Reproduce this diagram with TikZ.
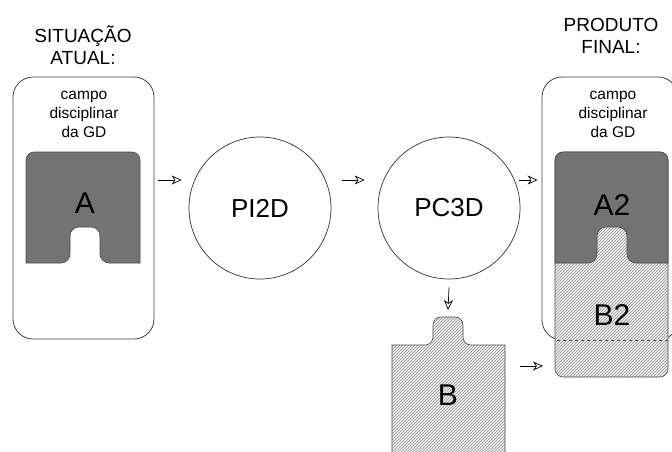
\documentclass[tikz,border=0pt]{standalone}
\usepackage{fontspec}
\setmainfont{Liberation Sans}
\usetikzlibrary{arrows.meta, patterns}

\begin{document}
\begin{tikzpicture}[
        x=1pt, y=-1pt,
        frame/.style={draw=black!75, rounded corners=20pt, line width=0.8pt},
        proc/.style={draw=black!80, circle, minimum size=142pt, inner sep=0pt, line width=0.7pt,
                     font=\fontsize{26}{30}\selectfont},
        heading/.style={align=center, font=\fontsize{19}{22.5}\selectfont},
        field/.style={align=center, font=\fontsize{15.5}{19}\selectfont},
        piece/.style={font=\fontsize{30}{34}\selectfont},
        darkpart/.style={fill=black!55, draw=black!70, line width=0.6pt},
        lightpart/.style={draw=black!70, line width=0.6pt, preaction={fill=black!8},
                          pattern=north east lines, pattern color=black!40},
        arr/.style={-{Stealth[open, length=10pt, width=9pt, inset=3pt]}, line width=0.7pt}]

        \useasboundingbox (0,0) rectangle (672,451);

        % --- LEFT: current situation ---
        \node[heading] (curtitle) at (83,45) {SITUAÇÃO\\ATUAL:};
        \node[frame, minimum width=141pt, minimum height=262pt] (cur) at (83.5,208) {};
        \node[field] (curfield) at (84,114) {campo\\disciplinar\\da GD};
        % A (notch at the bottom)
        \draw[darkpart] (26,263) [rounded corners=8pt] -- (26,152) -- (140,152)
            [sharp corners] -- (140,263) [rounded corners=9pt] -- (100,263) -- (100,227)
            -- (70,227) -- (70,263) [sharp corners] -- cycle;
        \node[piece] (a) at (85,203) {A};

        % --- MIDDLE: processes ---
        \node[proc] (pi) at (260,208) {PI2D};
        \node[proc] (pc) at (449,208) {PC3D};

        % B (tab on top)
        \draw[lightpart] (392,460) -- (392,345) [rounded corners=8pt] -- (433,345) -- (433,317)
            -- (463,317) -- (463,345) [sharp corners] -- (505,345) -- (505,460) -- cycle;
        \node[piece] (b) at (448,395) {B};
        \coordinate (tabtop) at (448,317);

        % --- RIGHT: final product ---
        \node[heading] (fintitle) at (611,36) {PRODUTO\\FINAL:};
        \node[frame, minimum width=136pt, minimum height=263pt] (fin) at (610,208.5) {};
        \node[field] (finfield) at (613,114) {campo\\disciplinar\\da GD};
        % B2 underneath, A2 on top
        \draw[lightpart, rounded corners=8pt] (555,152) rectangle (668,377);
        \draw[darkpart] (555,263) [rounded corners=8pt] -- (555,152) -- (668,152)
            [sharp corners] -- (668,263) [rounded corners=9pt] -- (627,263) -- (627,227)
            -- (597,227) -- (597,263) [sharp corners] -- cycle;
        \draw[dashed, draw=black!70, line width=0.7pt] (557,340) -- (668,340);
        \node[piece] (a2) at (612,205) {A2};
        \node[piece] (b2) at (612,315) {B2};

        % Arrows
        \coordinate (row) at (0,180);
        \coordinate (brow) at (0,366);
        \draw[arr] ([xshift=4pt]cur.east |- row) -- ([xshift=-7pt]pi.west |- row);
        \draw[arr] ([xshift=11pt]pi.east |- row) -- ([xshift=-13pt]pc.west |- row);
        \draw[arr] ([xshift=-1pt]pc.east |- row) -- ([xshift=-4pt]fin.west |- row);
        \draw[arr] ([yshift=-8pt]pc.south) -- ([yshift=7pt]tabtop);
        \draw[arr] (520,366 |- brow) -- (543,366 |- brow);

\end{tikzpicture}
\end{document}
